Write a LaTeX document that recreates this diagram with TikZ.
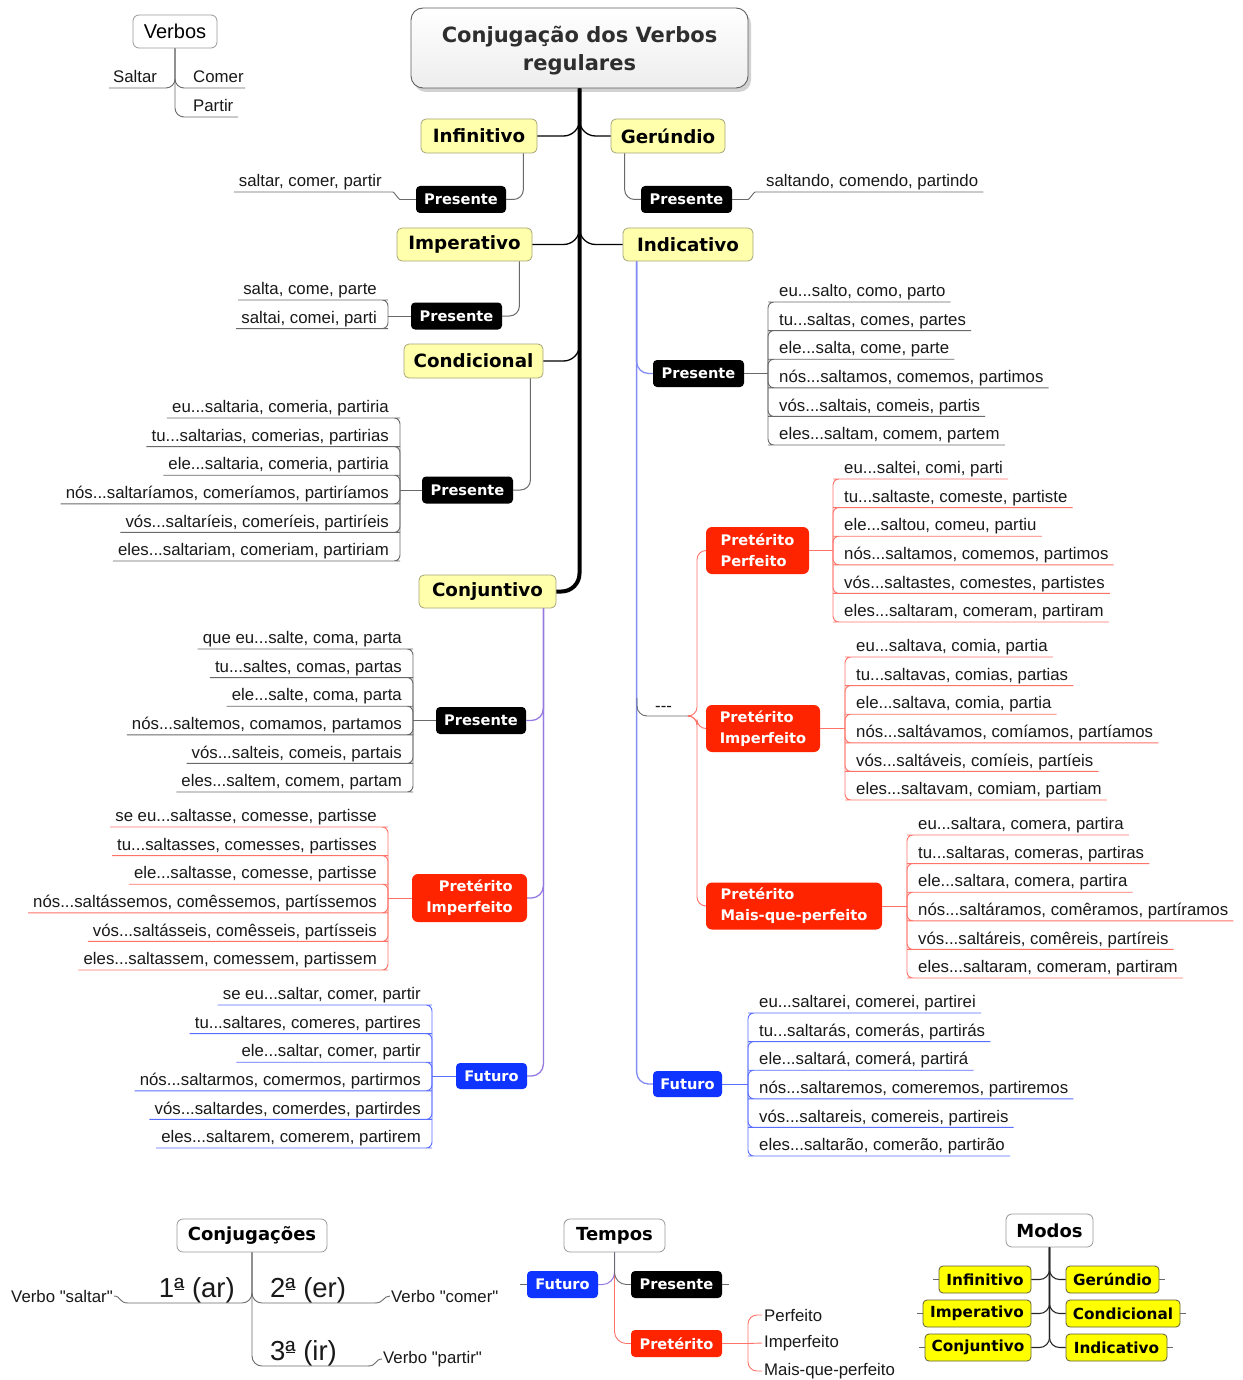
\documentclass[tikz,border=0pt]{standalone}
\usepackage{fontspec}
\setmainfont{Liberation Sans}
\newfontfamily\dejavu{DejaVu Sans}
\newfontfamily\nomap{Liberation Sans}[Ligatures=TeXOff]
\usetikzlibrary{calc,shadows}

\definecolor{yfill}{RGB}{255,255,172}
\definecolor{ybord}{RGB}{165,165,120}
\definecolor{mody}{RGB}{255,255,0}
\definecolor{mbord}{RGB}{95,95,60}
\definecolor{myred}{RGB}{255,36,0}
\definecolor{myblue}{RGB}{16,52,255}
\definecolor{lred}{RGB}{255,115,105}
\definecolor{lblue}{RGB}{90,110,255}
\definecolor{indv}{RGB}{130,140,245}
\definecolor{conjv}{RGB}{150,122,225}
\definecolor{gline}{RGB}{105,105,105}
\definecolor{txt}{RGB}{25,25,25}

\newcommand\fleaf{\normalfont\fontsize{16.8}{20}\selectfont}
\newcommand\fbig{\normalfont\fontsize{27.5}{32}\selectfont}
\newcommand\fverb{\normalfont\fontsize{20}{24}\selectfont}
\newcommand\fkbox{\dejavu\bfseries\fontsize{14.6}{21}\selectfont}
\newcommand\fybox{\dejavu\bfseries\fontsize{18.3}{22}\selectfont}
\newcommand\fmodo{\dejavu\bfseries\fontsize{15.3}{18}\selectfont}
\newcommand\fhead{\dejavu\bfseries\fontsize{18}{22}\selectfont}
\newcommand\ftitle{\dejavu\bfseries\fontsize{21}{28}\selectfont}
% feminine ordinal with its bar underneath
\newcommand\ordA{\setbox0\hbox{ª}\rlap{\kern0.03em\raisebox{0.25em}{\rule{\dimexpr\wd0-0.06em\relax}{0.055em}}}\box0}
% straight double quote
\newcommand\qd{{\nomap"}}

% a group of forms hanging from one hub: name, hub x, hub y, first underline y, line style
\newcommand\lgrp[5]{%
  \def\lgN{#1}\def\lgX{#2}\def\lgF{#4}%
  \tikzset{curln/.style={#5}}%
  \coordinate (#1h) at (#2,#3);%
}
% one form to the right of the current hub
\newcommand\lfR[2]{%
  \node[leafR] (\lgN#1) at ({\lgX+6},{\lgF+(#1-1)*28.6}) {#2};
  \draw[curln] (\lgN h) |- (\lgN#1.south west) -- (\lgN#1.south east);
}
% one form to the left of the current hub
\newcommand\lfL[2]{%
  \node[leafL] (\lgN#1) at ({\lgX-6},{\lgF+(#1-1)*28.6}) {#2};
  \draw[curln] (\lgN h) |- (\lgN#1.south east) -- (\lgN#1.south west);
}

\tikzset{
  leafR/.style={anchor=south west, inner xsep=5pt, inner ysep=5.2pt, text depth=0pt, font=\fleaf, text=txt},
  leafL/.style={leafR, anchor=south east},
  kbox/.style={fill=black, text=white, rounded corners=4pt, inner sep=0pt, minimum height=27pt, font=\fkbox},
  rbox/.style={fill=myred, text=white, rounded corners=6pt, inner sep=0pt, minimum height=47pt, font=\fkbox},
  bbox/.style={fill=myblue, text=white, rounded corners=4pt, inner sep=0pt, minimum height=26pt, font=\fkbox},
  ybox/.style={draw=ybord, line width=0.8pt, fill=yfill, rounded corners=5pt, inner sep=0pt, minimum height=34pt, font=\fybox, text=black},
  mbox/.style={draw=mbord, line width=0.8pt, fill=mody, rounded corners=4pt, inner sep=0pt, minimum height=27pt, font=\fmodo, text=black},
  hbox/.style={draw=gray!80, line width=0.8pt, fill=white, rounded corners=6pt, inner sep=0pt, minimum height=33pt, text=black},
  lnG/.style={draw=gline, line width=0.9pt, rounded corners=6pt},
  lnR/.style={draw=lred, line width=0.9pt, rounded corners=6pt},
  lnB/.style={draw=lblue, line width=0.9pt, rounded corners=6pt},
  subln/.style={draw=gline, line width=1pt, rounded corners=10pt},
  branchln/.style={draw=black, line width=1.3pt, rounded corners=16pt},
  trunkln/.style={draw=black, line width=4pt, rounded corners=18pt},
  indln/.style={draw=indv, line width=1.3pt, rounded corners=12pt},
  conjln/.style={draw=conjv, line width=1.3pt, rounded corners=12pt},
  hubln/.style={draw=black!85, line width=1.1pt, rounded corners=10pt},
}

\begin{document}
\begin{tikzpicture}[x=1pt,y=-1pt]
\fill[white] (0,0) rectangle (1242,1380);
\useasboundingbox (0,0) rectangle (1242,1380);

% ---------- central map ----------
\node[draw=gray!75!black, line width=0.9pt, rounded corners=12pt, top color=white, bottom color=gray!14,
      minimum width=337pt, minimum height=80pt, inner sep=0pt,
      drop shadow={shadow xshift=3pt, shadow yshift=-4pt, opacity=0.35}]
      (title) at (579.5,48) {};
\node[align=center, font=\ftitle, text=black!82, inner sep=0pt] (titletxt) at (579.5,51) {Conjugação dos Verbos\\regulares};

\node[ybox, minimum width=116pt] (yinf) at (479,136) {Infinitivo};
\node[ybox, minimum width=114pt] (yger) at (668,136) {Gerúndio};
\node[ybox, minimum width=135pt, minimum height=33pt] (yimp) at (464.5,244.5) {Imperativo};
\node[ybox, minimum width=130pt, minimum height=33pt] (yind) at (688,244.5) {Indicativo};
\node[ybox, minimum width=139pt] (ycond) at (473.5,361) {Condicional};
\node[ybox, minimum width=137pt, minimum height=33pt] (yconj) at (487.5,591.5) {Conjuntivo};

\draw[trunkln] (title.south) |- (yconj.east);
\draw[branchln] (title.south) |- (yinf.east);
\draw[branchln] (title.south) |- (yger.west);
\draw[branchln] (title.south) |- (yimp.east);
\draw[branchln] (title.south) |- (yind.west);
\draw[branchln] (title.south) |- (ycond.east);

% Infinitivo / Gerundio / Imperativo / Condicional
\node[kbox, minimum width=90pt] (pinf) at (461,199.5) {Presente};
\node[kbox, minimum width=91pt] (pger) at (686.5,199.5) {Presente};
\node[kbox, minimum width=91pt] (pimp) at (456.5,316) {Presente};
\node[kbox, minimum width=91pt] (pcond) at (467.5,490) {Presente};

\draw[subln] ($(yinf.south east)+(-14,0)$) |- (pinf.east);
\draw[subln] ($(yger.south west)+(14,0)$) |- (pger.west);
\draw[subln] ($(yimp.south east)+(-13,0)$) |- (pimp.east);
\draw[subln] ($(ycond.south east)+(-13,0)$) |- (pcond.east);

\node[leafL] (linf) at (387,192) {saltar, comer, partir};
\draw[lnG] (pinf.west) -- ++(-10,0) .. controls +(-7,0) and +(7,0) .. (linf.south east) -- (linf.south west);
\node[leafR] (lger) at (761,192) {saltando, comendo, partindo};
\draw[lnG] (pger.east) -- ++(10,0) .. controls +(7,0) and +(-7,0) .. (lger.south west) -- (lger.south east);

\lgrp{imp}{388}{316}{300}{lnG}
\lfL{1}{salta, come, parte}
\lfL{2}{saltai, comei, parti}
\draw[lnG] (pimp.west) -- (imph);

\lgrp{cdp}{400}{490}{418}{lnG}
\lfL{1}{eu...saltaria, comeria, partiria}
\lfL{2}{tu...saltarias, comerias, partirias}
\lfL{3}{ele...saltaria, comeria, partiria}
\lfL{4}{nós...saltaríamos, comeríamos, partiríamos}
\lfL{5}{vós...saltaríeis, comeríeis, partiríeis}
\lfL{6}{eles...saltariam, comeriam, partiriam}
\draw[lnG] (pcond.west) -- (cdph);

% Indicativo
\node[kbox, minimum width=91pt] (pind) at (698.5,373.5) {Presente};
\node[bbox, minimum width=69pt] (find) at (687.5,1084) {Futuro};
\node[anchor=base west, inner sep=0pt, font=\fleaf, text=txt] (dash) at (655,711) {\nomap ---};
\coordinate (dashEnd) at (691,716);
\coordinate (dashJ) at (637,698);
\coordinate (pjn) at (697,716);
\node[rbox, minimum width=103pt, align=left] (ipp) at (757.5,550.5) {Pretérito\\Perfeito};
\node[rbox, minimum width=114pt, align=left] (ipi) at (763,728.5) {Pretérito\\Imperfeito};
\node[rbox, minimum width=176pt, align=left] (ipm) at (794,906) {Pretérito\\Mais-que-perfeito};

\coordinate (indtop) at ($(yind.south west)+(14,0)$);
\draw[indln] (indtop) |- (pind.west);
\draw[indln] (indtop) |- (find.west);
\draw[lnG, rounded corners=10pt] (dashJ) |- (dashEnd);
\draw[lnR, rounded corners=9pt] (dashEnd) -- (pjn) |- (ipp.west);
\draw[lnR, rounded corners=9pt] (dashEnd) -- (pjn) |- (ipi.west);
\draw[lnR, rounded corners=9pt] (dashEnd) -- (pjn) |- (ipm.west);

\lgrp{ipr}{768}{373.5}{302}{lnG}
\lfR{1}{eu...salto, como, parto}
\lfR{2}{tu...saltas, comes, partes}
\lfR{3}{ele...salta, come, parte}
\lfR{4}{nós...saltamos, comemos, partimos}
\lfR{5}{vós...saltais, comeis, partis}
\lfR{6}{eles...saltam, comem, partem}
\draw[lnG] (pind.east) -- (iprh);

\lgrp{ipf}{833}{550.5}{479}{lnR}
\lfR{1}{eu...saltei, comi, parti}
\lfR{2}{tu...saltaste, comeste, partiste}
\lfR{3}{ele...saltou, comeu, partiu}
\lfR{4}{nós...saltamos, comemos, partimos}
\lfR{5}{vós...saltastes, comestes, partistes}
\lfR{6}{eles...saltaram, comeram, partiram}
\draw[lnR] (ipp.east) -- (ipfh);

\lgrp{ipa}{845}{728.5}{657}{lnR}
\lfR{1}{eu...saltava, comia, partia}
\lfR{2}{tu...saltavas, comias, partias}
\lfR{3}{ele...saltava, comia, partia}
\lfR{4}{nós...saltávamos, comíamos, partíamos}
\lfR{5}{vós...saltáveis, comíeis, partíeis}
\lfR{6}{eles...saltavam, comiam, partiam}
\draw[lnR] (ipi.east) -- (ipah);

\lgrp{ipq}{907}{906}{835}{lnR}
\lfR{1}{eu...saltara, comera, partira}
\lfR{2}{tu...saltaras, comeras, partiras}
\lfR{3}{ele...saltara, comera, partira}
\lfR{4}{nós...saltáramos, comêramos, partíramos}
\lfR{5}{vós...saltáreis, comêreis, partíreis}
\lfR{6}{eles...saltaram, comeram, partiram}
\draw[lnR] (ipm.east) -- (ipqh);

\lgrp{ifu}{748}{1084}{1013}{lnB}
\lfR{1}{eu...saltarei, comerei, partirei}
\lfR{2}{tu...saltarás, comerás, partirás}
\lfR{3}{ele...saltará, comerá, partirá}
\lfR{4}{nós...saltaremos, comeremos, partiremos}
\lfR{5}{vós...saltareis, comereis, partireis}
\lfR{6}{eles...saltarão, comerão, partirão}
\draw[lnB] (find.east) -- (ifuh);

% Conjuntivo
\node[kbox, minimum width=90pt] (pconj) at (481,720.5) {Presente};
\node[rbox, minimum width=115pt, minimum height=48pt, align=right] (rcpi) at (469.5,898) {Pretérito\\Imperfeito};
\node[bbox, minimum width=71pt] (fconj) at (491.5,1076) {Futuro};

\coordinate (cjtop) at ($(yconj.south east)+(-13,0)$);
\draw[conjln] (cjtop) |- (pconj.east);
\draw[conjln] (cjtop) |- (rcpi.east);
\draw[conjln] (cjtop) |- (fconj.east);

\lgrp{cjp}{413}{720.5}{649}{lnG}
\lfL{1}{que eu...salte, coma, parta}
\lfL{2}{tu...saltes, comas, partas}
\lfL{3}{ele...salte, coma, parta}
\lfL{4}{nós...saltemos, comamos, partamos}
\lfL{5}{vós...salteis, comeis, partais}
\lfL{6}{eles...saltem, comem, partam}
\draw[lnG] (pconj.west) -- (cjph);

\lgrp{cji}{388}{898}{827}{lnR}
\lfL{1}{se eu...saltasse, comesse, partisse}
\lfL{2}{tu...saltasses, comesses, partisses}
\lfL{3}{ele...saltasse, comesse, partisse}
\lfL{4}{nós...saltássemos, comêssemos, partíssemos}
\lfL{5}{vós...saltásseis, comêsseis, partísseis}
\lfL{6}{eles...saltassem, comessem, partissem}
\draw[lnR] (rcpi.west) -- (cjih);

\lgrp{cjf}{432}{1076}{1005}{lnB}
\lfL{1}{se eu...saltar, comer, partir}
\lfL{2}{tu...saltares, comeres, partires}
\lfL{3}{ele...saltar, comer, partir}
\lfL{4}{nós...saltarmos, comermos, partirmos}
\lfL{5}{vós...saltardes, comerdes, partirdes}
\lfL{6}{eles...saltarem, comerem, partirem}
\draw[lnB] (fconj.west) -- (cjfh);

% ---------- Verbos ----------
\node[hbox, minimum width=84pt, font=\fverb] (verbos) at (175,31.5) {Verbos};
\node[anchor=base west, inner sep=0pt, font=\fleaf, text=txt] (vsal) at (113,83) {Saltar};
\node[anchor=base west, inner sep=0pt, font=\fleaf, text=txt] (vcom) at (193,83) {Comer};
\node[anchor=base west, inner sep=0pt, font=\fleaf, text=txt] (vpar) at (193,112) {Partir};
\coordinate (salUL) at (109,88);
\coordinate (comUL) at (245,88);
\coordinate (parUL) at (238,117);
\draw[lnG, rounded corners=9pt] (verbos.south) |- (salUL);
\draw[lnG, rounded corners=9pt] (verbos.south) |- (comUL);
\draw[lnG, rounded corners=9pt] (verbos.south) |- (parUL);

% ---------- Conjugacoes ----------
\node[hbox, minimum width=150pt, font=\fhead] (conjug) at (252,1235.5) {Conjugações};
\node[anchor=base east, inner sep=0pt, font=\fbig, text=txt] (c1) at (235,1297) {1\ordA{} (ar)};
\node[anchor=base west, inner sep=0pt, font=\fbig, text=txt] (c2) at (270,1297) {2\ordA{} (er)};
\node[anchor=base west, inner sep=0pt, font=\fbig, text=txt] (c3) at (270,1360) {3\ordA{} (ir)};
\coordinate (c1ul) at (128,1303);
\coordinate (c2ul) at (375,1303);
\coordinate (c3ul) at (368,1366);
\draw[lnG, rounded corners=10pt] (conjug.south) |- (c1ul);
\draw[lnG, rounded corners=10pt] (conjug.south) |- (c2ul);
\draw[lnG, rounded corners=10pt] (conjug.south) |- (c3ul);
\node[anchor=east, inner sep=1pt, font=\fleaf, text=txt] (vs) at (114,1296) {Verbo \qd saltar\qd};
\node[anchor=west, inner sep=1pt, font=\fleaf, text=txt] (vc) at (390,1296) {Verbo \qd comer\qd};
\node[anchor=west, inner sep=1pt, font=\fleaf, text=txt] (vp) at (382,1359) {Verbo \qd partir\qd};
\draw[lnG] (c1ul) .. controls +(-9,0) and +(7,0) .. (vs.east);
\draw[lnG] (c2ul) .. controls +(9,0) and +(-7,0) .. (vc.west);
\draw[lnG] (c3ul) .. controls +(9,0) and +(-7,0) .. (vp.west);

% ---------- Tempos ----------
\node[hbox, minimum width=101pt, font=\fhead] (tempos) at (614.5,1235.5) {Tempos};
\node[bbox, minimum width=71pt, minimum height=27pt] (tfut) at (562.5,1284.5) {Futuro};
\node[kbox, minimum width=91pt] (tpres) at (676.5,1284.5) {Presente};
\node[rbox, minimum width=91pt, minimum height=27pt, rounded corners=4pt] (tpret) at (676.5,1343.5) {Pretérito};
\draw[lnR, rounded corners=12pt] (tempos.south) |- (tpret.west);
\draw[draw=conjv, line width=1pt, rounded corners=12pt] (tempos.south) |- (tfut.east);
\draw[lnG, rounded corners=12pt] (tempos.south) |- (tpres.west);
\draw[lnG] (tfut.west) -- ++(-7,0);
\draw[lnG] (tpres.east) -- ++(7,0);
\coordinate (tph) at (748,1343.5);
\node[anchor=west, inner sep=2pt, font=\fleaf, text=txt] (tp1) at (762,1315) {Perfeito};
\node[anchor=west, inner sep=2pt, font=\fleaf, text=txt] (tp2) at (762,1343) {Imperfeito};
\node[anchor=west, inner sep=2pt, font=\fleaf, text=txt] (tp3) at (762,1371) {Mais-que-perfeito};
\draw[lnR] (tpret.east) -- (tph);
\draw[lnR, rounded corners=9pt] (tph) |- (tp1.west);
\draw[lnR] (tph) -- (tp2.west);
\draw[lnR, rounded corners=9pt] (tph) |- (tp3.west);

% ---------- Modos ----------
\node[hbox, minimum width=87pt, font=\fhead] (modos) at (1049.5,1230.5) {Modos};
\node[mbox, minimum width=92pt] (m1) at (985,1279.5) {Infinitivo};
\node[mbox, minimum width=93pt] (m2) at (1112.5,1279.5) {Gerúndio};
\node[mbox, minimum width=108pt] (m3) at (977,1313.5) {Imperativo};
\node[mbox, minimum width=114pt] (m4) at (1123,1313.5) {Condicional};
\node[mbox, minimum width=106pt] (m5) at (978,1347.5) {Conjuntivo};
\node[mbox, minimum width=101pt] (m6) at (1116.5,1347.5) {Indicativo};
\foreach \m in {m1,m3,m5} {
  \draw[hubln] (modos.south) |- (\m.east);
  \draw[lnG] (\m.west) -- ++(-6,0);
}
\foreach \m in {m2,m4,m6} {
  \draw[hubln] (modos.south) |- (\m.west);
  \draw[lnG] (\m.east) -- ++(6,0);
}
\end{tikzpicture}
\end{document}
